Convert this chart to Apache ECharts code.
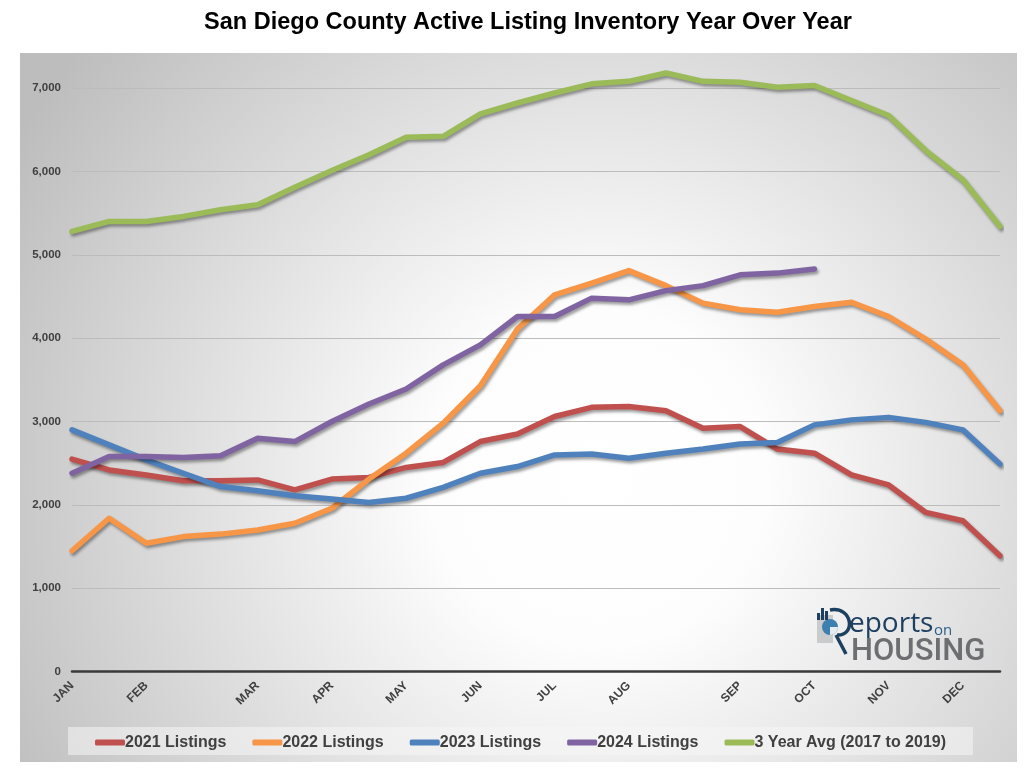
<!DOCTYPE html>
<html>
<head>
<meta charset="utf-8">
<script src="https://cdn.jsdelivr.net/npm/echarts@6/dist/echarts.min.js"></script>
<style>
html,body{margin:0;padding:0;background:#fff;}
#chart{width:1032px;height:778px;}
</style>
</head>
<body>
<div id="chart"></div>
<script>
const categories = ['JAN','','FEB','','','MAR','','APR','','MAY','','JUN','','JUL','','AUG','','','SEP','','OCT','','NOV','','DEC',''];
const yTicks = [0,1000,2000,3000,4000,5000,6000,7000];
const listings2021 = [2550,2420,2360,2290,2290,2300,2180,2310,2330,2450,2510,2760,2850,3060,3170,3180,3130,2920,2940,2670,2620,2360,2240,1910,1810,1390];
const listings2022 = [1450,1840,1540,1620,1650,1700,1780,1960,2310,2620,2980,3430,4110,4520,4660,4810,4630,4420,4340,4310,4380,4430,4260,3990,3680,3130];
const listings2023 = [2900,2720,2540,2380,2220,2170,2110,2070,2030,2080,2210,2380,2460,2600,2610,2560,2620,2670,2730,2750,2960,3020,3050,2990,2900,2490];
const listings2024 = [2380,2580,2580,2570,2590,2800,2760,3000,3210,3390,3680,3920,4260,4260,4480,4460,4570,4630,4760,4780,4830];
const avg3yr = [5280,5400,5400,5460,5540,5600,5810,6010,6200,6410,6420,6690,6820,6940,7050,7080,7180,7080,7070,7010,7030,6850,6670,6250,5900,5340];
const seriesNames = ['2021 Listings','2022 Listings','2023 Listings','2024 Listings','3 Year Avg (2017 to 2019)'];
const seriesData = [listings2021, listings2022, listings2023, listings2024, avg3yr];
const colors = ['#c0504d','#f79646','#4f81bd','#8064a2','#9bbb59'];

const chart = echarts.init(document.getElementById('chart'), null, {renderer:'canvas'});
const option = {
  animation: false,
  color: colors,
  title: {
    text: 'San Diego County Active Listing Inventory Year Over Year',
    left: 523, top: 6, textAlign: 'center',
    textStyle: {fontFamily: 'Liberation Sans, Arial, sans-serif', fontWeight: 'bold', fontSize: 23.5, color: '#000'}
  },
  graphic: [
    {type:'rect', z:-10, silent:true, shape:{x:20,y:53,width:997,height:709},
     style:{fill:{type:'radial', x:0.58, y:0.6, r:0.95, colorStops:[
       {offset:0,color:'#ffffff'},{offset:0.25,color:'#fdfdfd'},{offset:1,color:'#bdbdbd'}]}}},
    {type:'rect', z:-5, silent:true, shape:{x:68,y:727,width:905,height:28},
     style:{fill:'rgba(245,245,245,0.55)'}},
    {type:'group', z:5, children:[
      {type:'rect', shape:{x:817,y:615,width:16,height:28}, style:{fill:'#c9cbcd'}},
      {type:'circle', shape:{cx:830,cy:627,r:8}, style:{fill:'#3d7fae'}},
      {type:'sector', shape:{cx:830,cy:627,r:8,startAngle:0,endAngle:Math.PI/2}, style:{fill:'#e4ebf1'}},
      {type:'rect', shape:{x:817,y:613,width:3,height:7}, style:{fill:'#1d4060'}},
      {type:'rect', shape:{x:821,y:608,width:3,height:12}, style:{fill:'#1d4060'}},
      {type:'rect', shape:{x:825,y:611,width:3,height:9}, style:{fill:'#1d4060'}},
      {type:'bezierCurve', shape:{x1:830,y1:610,cpx1:853,cpy1:606,cpx2:856,cpy2:636,x2:837,y2:635},
       style:{fill:null, stroke:'#1d4060', lineWidth:3.5}},
      {type:'line', shape:{x1:836,y1:635,x2:846,y2:654}, style:{stroke:'#1d4060', lineWidth:3.5}},
      {type:'text', style:{x:849, y:638, text:'eports', fontFamily:'Open Sans, sans-serif', fontSize:28, fill:'#1d4060', textVerticalAlign:'bottom'}},
      {type:'text', style:{x:934, y:638, text:'on', fontFamily:'Open Sans, sans-serif', fontSize:15, fill:'#2c5f88', textVerticalAlign:'bottom'}},
      {type:'text', style:{x:851, y:668, text:'HOUSING', fontFamily:'Roboto, sans-serif', fontWeight:500, fontSize:31, fill:'#6d6e71', textVerticalAlign:'bottom'}}
    ]}
  ],
  legend: {
    left: 95, top: 734.5, padding: 0,
    itemWidth: 30, itemHeight: 6, itemGap: 26,
    icon: 'roundRect',
    data: seriesNames,
    textStyle: {fontFamily:'Liberation Sans, Arial, sans-serif', fontWeight:'bold', fontSize:16, color:'#404040', padding:[0,0,0,-5]}
  },
  grid: {left:72, right:32, top:88, bottom:106.3, containLabel:false},
  xAxis: {
    type:'category', data: categories, boundaryGap:false,
    axisLine:{show:true, lineStyle:{color:'#3a3a3a', width:2.5}},
    axisTick:{show:false},
    splitLine:{show:false},
    axisLabel:{interval:0, rotate:45, margin:12, fontFamily:'Liberation Sans, Arial, sans-serif', fontWeight:'bold', fontSize:12, color:'#404040'}
  },
  yAxis: {
    type:'value', min: yTicks[0], max: yTicks[yTicks.length-1], interval: 1000,
    axisLine:{show:false}, axisTick:{show:false},
    splitLine:{lineStyle:{color:'#bcbcbc', width:1}},
    axisLabel:{margin:11, fontFamily:'Liberation Sans, Arial, sans-serif', fontWeight:'bold', fontSize:11.5, color:'#404040',
      formatter: v => v.toLocaleString('en-US')}
  },
  series: seriesNames.map((name, k) => ({
    name: name, type:'line', data: seriesData[k], symbol:'none', clip:false, smooth:false,
    lineStyle:{width:5.5, color: colors[k], cap:'round', join:'round',
      shadowColor:'rgba(0,0,0,0.38)', shadowBlur:3, shadowOffsetX:1.5, shadowOffsetY:2.5},
    z: 2
  }))
};
chart.setOption(option);
</script>
</body>
</html>
